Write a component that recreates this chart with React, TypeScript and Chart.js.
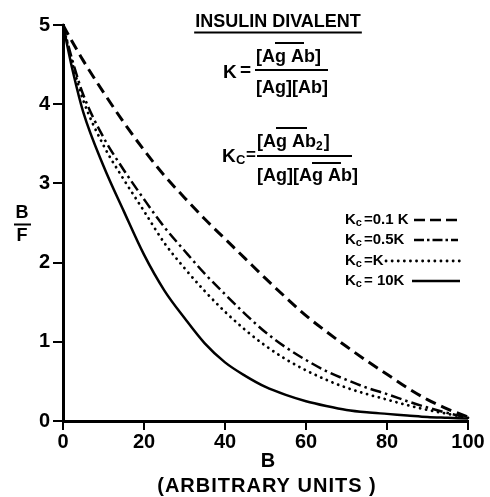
import React, { useEffect, useRef } from 'react';
import { Chart, registerables } from 'chart.js';

Chart.register(...registerables);

// ---- data ----
const bValues = [0, 2.5, 5, 10, 15, 20, 25, 30, 35, 40, 45, 50, 55, 60, 65, 70, 75, 80, 85, 90, 95, 100];
const kc01K = [5, 4.77, 4.55, 4.15, 3.77, 3.42, 3.1, 2.82, 2.55, 2.3, 2.05, 1.8, 1.56, 1.33, 1.13, 0.94, 0.76, 0.59, 0.42, 0.27, 0.15, 0.05];
const kc05K = [5, 4.52, 4.12, 3.58, 3.17, 2.8, 2.45, 2.15, 1.86, 1.6, 1.35, 1.12, 0.93, 0.77, 0.63, 0.52, 0.42, 0.34, 0.25, 0.17, 0.1, 0.04];
const kcK = [5, 4.48, 4.05, 3.48, 3.05, 2.65, 2.25, 1.93, 1.64, 1.38, 1.15, 0.95, 0.78, 0.64, 0.52, 0.42, 0.34, 0.27, 0.2, 0.14, 0.09, 0.04];
const kc10K = [5, 4.4, 3.9, 3.22, 2.65, 2.1, 1.65, 1.3, 0.98, 0.74, 0.57, 0.43, 0.33, 0.25, 0.19, 0.14, 0.11, 0.09, 0.07, 0.05, 0.04, 0.03];

const xTicks = [0, 20, 40, 60, 80, 100];
const yTicks = [0, 1, 2, 3, 4, 5];
const legendRest = ['=0.1 K', '=0.5K', '=K', '= 10K'];
const titleText = 'INSULIN DIVALENT';
const xTitle1 = 'B';
const xTitle2 = '(ARBITRARY UNITS )';

const FAM = '"Liberation Sans", Arial, Helvetica, sans-serif';
const f = (s: number) => `bold ${s}px ${FAM}`;

export default function App() {
  const ref = useRef<HTMLCanvasElement>(null);

  useEffect(() => {
    const canvas = ref.current!;
    const mk = (ys: number[]) => bValues.map((x, i) => ({ x, y: ys[i] }));

    const annot = {
      id: 'annot',
      afterDraw(chart: any) {
        const ctx: CanvasRenderingContext2D = chart.ctx;
        ctx.save();
        ctx.fillStyle = '#000';
        ctx.strokeStyle = '#000';
        const line = (x1: number, y1: number, x2: number, y2: number, w: number, dash: number[] = [], cap: CanvasLineCap = 'butt') => {
          ctx.beginPath();
          ctx.lineWidth = w;
          ctx.setLineDash(dash);
          ctx.lineCap = cap;
          ctx.moveTo(x1, y1);
          ctx.lineTo(x2, y2);
          ctx.stroke();
          ctx.setLineDash([]);
          ctx.lineCap = 'butt';
        };

        // title
        ctx.font = f(18);
        ctx.textAlign = 'center';
        ctx.textBaseline = 'middle';
        ctx.fillText(titleText, 278, 22);
        const tw = ctx.measureText(titleText).width;
        line(278 - tw / 2 - 1, 32.5, 278 + tw / 2 + 1, 32.5, 2);

        // formula 1
        ctx.textAlign = 'left';
        ctx.font = f(19);
        ctx.fillText('K', 223, 73);
        ctx.fillText('=', 240, 71);
        ctx.font = f(18);
        const L = 256;
        const n1 = '[Ag Ab]';
        ctx.fillText(n1, L, 57);
        line(L + ctx.measureText('[A').width, 43, L + ctx.measureText('[Ag A').width, 43, 2);
        line(255, 70, 328, 70, 2);
        ctx.fillText('[Ag][Ab]', L, 88);

        // formula 2
        ctx.font = f(19);
        ctx.fillText('K', 222, 157);
        ctx.font = f(13);
        ctx.fillText('C', 236, 160);
        ctx.font = f(17);
        ctx.fillText('=', 246, 155);
        ctx.font = f(18);
        const n2 = '[Ag Ab';
        ctx.fillText(n2, L + 1, 142);
        const wn2 = ctx.measureText(n2).width;
        line(L + 1 + ctx.measureText('[A').width, 128, L + 1 + ctx.measureText('[Ag A').width + 2, 128, 2);
        ctx.font = f(12);
        ctx.fillText('2', L + 1 + wn2, 147);
        const w2 = ctx.measureText('2').width;
        ctx.font = f(18);
        ctx.fillText(']', L + 1 + wn2 + w2 + 1, 142);
        line(257, 156, 352, 156, 2);
        const d2 = '[Ag][Ag Ab]';
        ctx.fillText(d2, L + 1, 176);
        line(L + 1 + ctx.measureText('[Ag][A').width, 163, L + 1 + ctx.measureText('[Ag][Ag A').width, 163, 2);

        // legend
        const rows = [220, 240, 261, 281];
        const samples: [number, number, number[], CanvasLineCap, number][] = [
          [414, 458, [11, 5], 'butt', 2.5],
          [414, 458, [10, 3, 2.5, 3], 'butt', 2.5],
          [386, 460, [0.1, 6], 'round', 2.8],
          [412, 460, [], 'butt', 2.5],
        ];
        rows.forEach((y, i) => {
          let x = 345;
          ctx.font = f(15);
          ctx.fillText('K', x, y);
          x += ctx.measureText('K').width;
          ctx.font = f(11);
          ctx.fillText('c', x, y + 3);
          x += ctx.measureText('c').width + 2;
          ctx.font = f(15);
          ctx.fillText(legendRest[i], x, y);
          const s = samples[i];
          line(s[0], y, s[1], y, s[4], s[2], s[3]);
        });

        // y-axis title B/F
        ctx.textAlign = 'center';
        ctx.font = f(18);
        ctx.fillText('B', 22, 213);
        line(14, 224.5, 31, 224.5, 2);
        ctx.fillText('F', 22, 236);

        // x-axis title
        ctx.font = f(20);
        ctx.fillText(xTitle1, 268, 461);
        (ctx as any).letterSpacing = '1px';
        ctx.fillText(xTitle2, 267, 486);
        (ctx as any).letterSpacing = '0px';

        ctx.restore();
      },
    };

    const tickFont = { family: FAM, size: 20, weight: 'bold' as const };

    const chart = new Chart(canvas, {
      type: 'line',
      data: {
        datasets: [
          { label: 'Kc=0.1K', data: mk(kc01K), borderColor: '#000', borderWidth: 3, borderDash: [11, 6], cubicInterpolationMode: 'monotone', clip: false as any },
          { label: 'Kc=0.5K', data: mk(kc05K), borderColor: '#000', borderWidth: 2.5, borderDash: [11, 4, 2.5, 4], cubicInterpolationMode: 'monotone', clip: false as any },
          { label: 'Kc=K', data: mk(kcK), borderColor: '#000', borderWidth: 2.8, borderDash: [0.1, 6], borderCapStyle: 'round', cubicInterpolationMode: 'monotone', clip: false as any },
          { label: 'Kc=10K', data: mk(kc10K), borderColor: '#000', borderWidth: 2.5, cubicInterpolationMode: 'monotone', clip: false as any },
        ],
      },
      options: {
        animation: false,
        responsive: false,
        layout: { padding: { left: 0, top: 25, right: 22, bottom: 0 }, autoPadding: false },
        plugins: { legend: { display: false }, tooltip: { enabled: false } },
        elements: { point: { radius: 0 } },
        scales: {
          x: {
            type: 'linear',
            min: 0,
            max: 100,
            afterBuildTicks: (s: any) => { s.ticks = xTicks.map((v) => ({ value: v })); },
            afterFit: (s: any) => { s.height = 76; },
            ticks: { font: tickFont, color: '#000', padding: 0, maxRotation: 0, autoSkip: false },
            grid: { display: true, drawOnChartArea: false, drawTicks: true, tickLength: 9, color: '#000', lineWidth: 2 },
            border: { display: true, color: '#000', width: 3 },
          },
          y: {
            type: 'linear',
            min: 0,
            max: 5,
            afterBuildTicks: (s: any) => { s.ticks = yTicks.map((v) => ({ value: v })); },
            afterFit: (s: any) => { s.width = 63; },
            ticks: { font: tickFont, color: '#000', padding: 3, autoSkip: false },
            grid: { display: true, drawOnChartArea: false, drawTicks: true, tickLength: 10, color: '#000', lineWidth: 2 },
            border: { display: true, color: '#000', width: 3 },
          },
        },
      },
      plugins: [annot],
    } as any);

    return () => chart.destroy();
  }, []);

  return (
    <div style={{ position: 'absolute', left: 0, top: 0, width: 490, height: 497, background: '#fff' }}>
      <canvas ref={ref} width={490} height={497} />
    </div>
  );
}
